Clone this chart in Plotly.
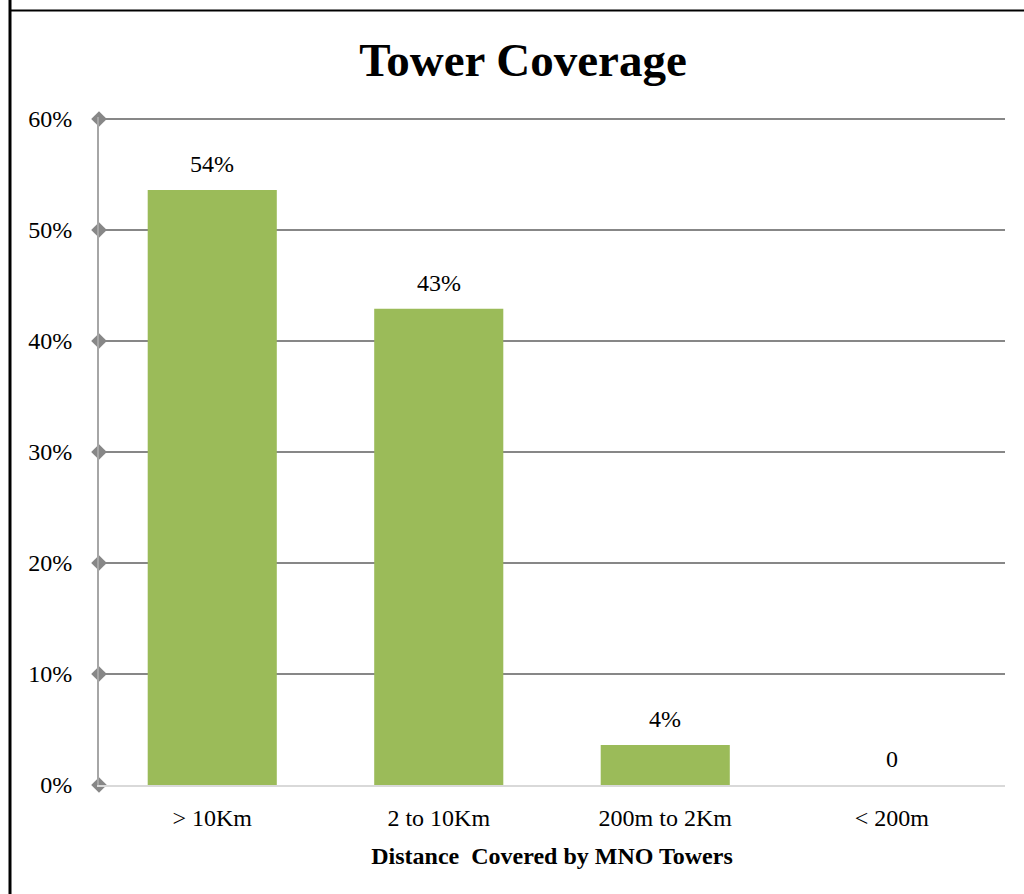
import plotly.graph_objects as go

# Share of towers by distance covered
categories = ["> 10Km", "2 to 10Km", "200m to 2Km", "< 200m"]
shares = [0.536, 0.429, 0.036, 0.0]
tick_values = [0.0, 0.1, 0.2, 0.3, 0.4, 0.5, 0.6]
tick_labels = ["0%", "10%", "20%", "30%", "40%", "50%", "60%"]

BAR_COLOR = "#9BBB59"
GRID_COLOR = "#878787"
FONT = "Liberation Serif, Times New Roman, serif"

Y_TOP = 0.6018  # a little headroom so the 60% gridline is drawn


def label_for(v):
    return "0" if v == 0 else f"{v:.0%}"


fig = go.Figure()

fig.add_trace(go.Bar(
    x=categories,
    y=shares,
    marker=dict(color=BAR_COLOR, line=dict(width=0)),
    hoverinfo="x+y",
    showlegend=False,
))

# Diamond markers on the value axis at each tick
fig.add_trace(go.Scatter(
    x=[0] * len(tick_values),
    y=tick_values,
    xaxis="x2",
    mode="markers",
    marker=dict(symbol="diamond", size=12, color=GRID_COLOR),
    hoverinfo="skip",
    showlegend=False,
    cliponaxis=False,
))

annotations = [
    dict(x=c, y=v, xref="x", yref="y", text=label_for(v), showarrow=False,
         yanchor="bottom", yshift=11, font=dict(family=FONT, size=24, color="#000"))
    for c, v in zip(categories, shares)
]

plot_h = 894 - 117 - 109

fig.update_layout(
    width=1024,
    height=894,
    margin=dict(l=99, r=19, t=117, b=109),
    paper_bgcolor="white",
    plot_bgcolor="white",
    bargap=0.43,
    font=dict(family=FONT, color="#000"),
    title=dict(
        text="<b>Tower Coverage</b>",
        x=523 / 1024, xanchor="center",
        y=1 - 60 / 894, yanchor="middle",
        font=dict(family=FONT, size=47, color="#000"),
    ),
    xaxis=dict(
        type="category",
        showgrid=False,
        showline=True, linecolor="#D9D9D9", linewidth=2,
        ticks="outside", ticklen=10, tickcolor="rgba(0,0,0,0)",
        tickfont=dict(family=FONT, size=24, color="#000"),
        title=dict(text="<b>Distance\u00a0 Covered by MNO Towers</b>",
                   font=dict(family=FONT, size=24, color="#000"), standoff=17),
        zeroline=False,
        fixedrange=True,
    ),
    xaxis2=dict(
        overlaying="x", range=[0, 1], visible=False, fixedrange=True,
    ),
    yaxis=dict(
        range=[0, Y_TOP],
        tickvals=tick_values,
        ticktext=tick_labels,
        showgrid=True, gridcolor=GRID_COLOR, gridwidth=2,
        showline=True, linecolor="#A6A6A6", linewidth=2,
        zeroline=False,
        ticks="outside", ticklen=20, tickcolor="rgba(0,0,0,0)",
        tickfont=dict(family=FONT, size=24, color="#000"),
        fixedrange=True,
    ),
    annotations=annotations,
    shapes=[
        # frame around the chart area (left and top edges visible)
        dict(type="line", xref="paper", yref="paper",
             x0=-89 / 906, x1=-89 / 906, y0=1.2, y1=-0.25,
             line=dict(color="#000", width=3)),
        dict(type="line", xref="paper", yref="paper",
             x0=-89 / 906, x1=1.1, y0=(785 - 10.5) / plot_h, y1=(785 - 10.5) / plot_h,
             line=dict(color="#000", width=2)),
    ],
)

fig.write_html("out.html")
